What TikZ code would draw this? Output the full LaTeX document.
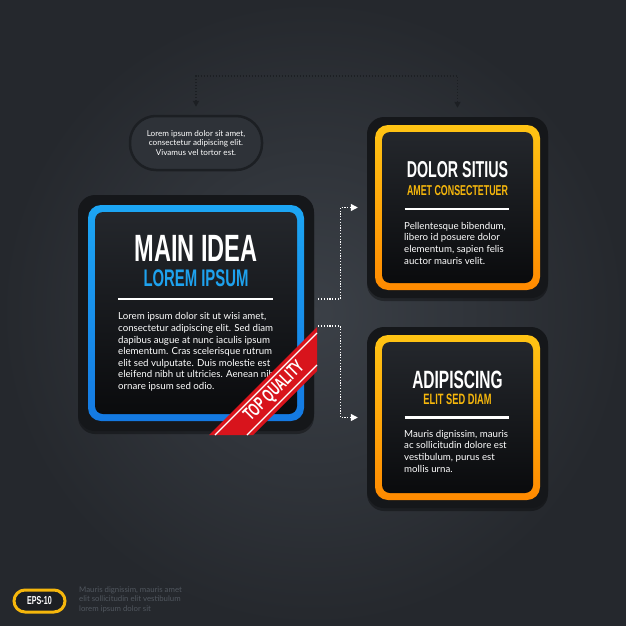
\documentclass[tikz,border=0pt]{standalone}
\usepackage{fontspec}
\setmainfont{Lato}
\newfontfamily\headfont[FakeStretch=0.62]{Liberation Sans}
\usetikzlibrary{arrows.meta, positioning, calc, shadows}

\definecolor{bgmid}{HTML}{3B4047}
\definecolor{bgedge}{HTML}{25282D}
\definecolor{shellcol}{HTML}{15171A}
\definecolor{coretop}{HTML}{24272C}
\definecolor{corebot}{HTML}{0A0B0D}
\definecolor{bluetop}{HTML}{1CA6F4}
\definecolor{bluebot}{HTML}{1479E2}
\definecolor{blueink}{HTML}{1EA2EE}
\definecolor{orangetop}{HTML}{FFC414}
\definecolor{orangebot}{HTML}{FF8A00}
\definecolor{goldink}{HTML}{F6B70C}
\definecolor{ribbonred}{HTML}{D8141C}
\definecolor{darkline}{HTML}{1C1F23}
\definecolor{notefill}{HTML}{2E3238}
\definecolor{footgrey}{HTML}{51575F}

\begin{document}
\begin{tikzpicture}[
    x=1pt, y=-1pt,
    shell/.style={rectangle, rounded corners=17pt, fill=shellcol, minimum size=#1, inner sep=0pt,
        drop shadow={shadow xshift=0pt, shadow yshift=-3pt, opacity=0.35, fill=black}},
    bluering/.style={rectangle, rounded corners=13pt, top color=bluetop, bottom color=bluebot, minimum size=#1, inner sep=0pt},
    orangering/.style={rectangle, rounded corners=13pt, top color=orangetop, bottom color=orangebot, minimum size=#1, inner sep=0pt},
    core/.style={rectangle, rounded corners=8pt, top color=coretop, bottom color=corebot, minimum size=#1, inner sep=0pt},
    headline/.style={font=\headfont\bfseries\fontsize{#1}{#1}\selectfont, text=white, inner sep=0pt},
    bodytext/.style={font=\fontsize{9.7}{11.6}\selectfont, text=white, align=left, inner sep=0pt, anchor=north west},
    rule/.style={white, line width=2.6pt},
    flow/.style={white, line width=1.2pt, dash pattern=on 1.2pt off 1.6pt,
        -{Triangle[length=7pt,width=7pt]}, shorten >=9pt},
    topflow/.style={darkline, line width=1.6pt, dash pattern=on 1.4pt off 1.6pt,
        {Triangle[length=6pt,width=6pt]}-{Triangle[length=6pt,width=6pt]}, shorten <=8pt, shorten >=9pt},
    notepill/.style={rectangle, rounded corners=26pt, draw=darkline, line width=2.5pt, fill=notefill,
        minimum width=132pt, minimum height=54pt, align=center, text=white, inner sep=0pt,
        font=\fontsize{8.1}{9.7}\selectfont},
    epspill/.style={rectangle, rounded corners=11pt, draw=goldink, line width=3pt, fill=darkline,
        minimum width=51pt, minimum height=22pt, text=white, inner sep=0pt,
        font=\headfont\bfseries\fontsize{11.5}{11.5}\selectfont}
]
    % Background
    \fill[inner color=bgmid, outer color=bgedge] (0,0) rectangle (626,626);
    \useasboundingbox (0,0) rectangle (626,626);

    % Main idea box
    \node[shell=236pt] (main) at (196,313) {};
    \node[bluering=216pt] (mainring) at (main) {};
    \node[core=202pt] (maincore) at (main) {};
    \node[headline=38] (maintitle) at ($(main)+(0,-65)$) {MAIN IDEA};
    \node[headline=24, text=blueink] (mainsub) at ($(main)+(0,-34.5)$) {LOREM IPSUM};
    \draw[rule] ($(main)+(-78,-14)$) -- ($(main)+(77,-14)$);
    \node[bodytext] (maintext) at ($(main)+(-78,-0.5)$) {Lorem ipsum dolor sit ut wisi amet,\\consectetur adipiscing elit. Sed diam\\dapibus augue at nunc iaculis ipsum\\elementum. Cras scelerisque rutrum\\elit sed vulputate. Duis molestie est\\eleifend nibh ut ultricies. Aenean nibh\\ornare ipsum sed odio.};

    % Ribbon
    \fill[ribbonred] (209,435) -- (317,327) -- (317,371) -- (253,435) -- cycle;
    \draw[white, line width=1.2pt] (215,435) -- (317,333);
    \draw[white, line width=1.2pt] (247,435) -- (317,365);
    \node[headline=18.5, rotate=45] (badge) at (274.5,391.5) {TOP QUALITY};

    % Right boxes
    \node[shell=181pt] (box1) at (457.5,207.5) {};
    \node[orangering=165pt] (box1ring) at (box1) {};
    \node[core=151pt] (box1core) at (box1) {};
    \node[headline=23] (box1title) at ($(box1)+(0,-37.5)$) {DOLOR SITIUS};
    \node[headline=14.3, text=goldink] (box1sub) at ($(box1)+(0,-16.5)$) {AMET CONSECTETUER};
    \draw[rule] ($(box1)+(-53,1.5)$) -- ($(box1)+(51,1.5)$);
    \node[bodytext] (box1text) at ($(box1)+(-53.5,14.5)$) {Pellentesque bibendum,\\libero id posuere dolor\\elementum, sapien felis\\auctor mauris velit.};

    \node[shell=181pt] (box2) at (457.5,417.5) {};
    \node[orangering=165pt] (box2ring) at (box2) {};
    \node[core=151pt] (box2core) at (box2) {};
    \node[headline=25] (box2title) at ($(box2)+(0,-38)$) {ADIPISCING};
    \node[headline=15, text=goldink] (box2sub) at ($(box2)+(0,-18.5)$) {ELIT SED DIAM};
    \draw[rule] ($(box2)+(-53,0)$) -- ($(box2)+(51,0)$);
    \node[bodytext] (box2text) at ($(box2)+(-53.5,12.5)$) {Mauris dignissim, mauris\\ac sollicitudin dolore est\\vestibulum, purus est\\mollis urna.};

    % Note and connectors
    \node[notepill] (note) at (196,143) {Lorem ipsum dolor sit amet,\\consectetur adipiscing elit.\\Vivamus vel tortor est.};
    \draw[topflow] (note.north) -- ++(0,-39) -| (box1.north);

    \coordinate (out1) at ($(main.east)+(4,-14)$);
    \coordinate (out2) at ($(main.east)+(4,13)$);
    \draw[flow] (out1) -- ++(22,0) |- (box1.west);
    \draw[flow] (out2) -- ++(22,0) |- (box2.west);

    % Footer
    \node[epspill] (eps) at (39.5,601) {EPS-10};
    \node[anchor=north west, inner sep=0pt, align=left, text=footgrey,
        font=\fontsize{7.8}{9.5}\selectfont] (footer) at (79,586.5) {Mauris dignissim, mauris amet\\elit sollicitudin elit vestibulum\\lorem ipsum dolor sit};
\end{tikzpicture}
\end{document}
